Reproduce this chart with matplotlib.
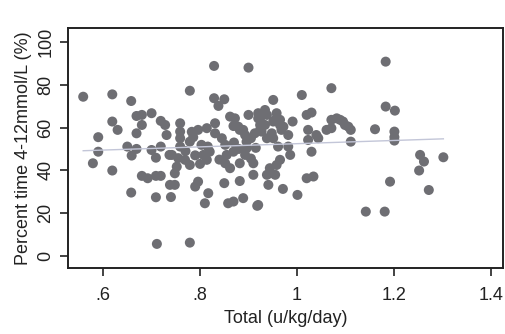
import numpy as np
import matplotlib
matplotlib.use("Agg")
import matplotlib.pyplot as plt

plt.rcParams['font.family'] = ['Liberation Sans', 'DejaVu Sans']

# total insulin dose (u/kg/day)
total = [0.559, 0.619, 0.658, 0.619, 0.630, 0.669, 0.680, 0.700, 0.680, 0.669,
         0.719, 0.731, 0.590, 0.590, 0.579, 0.619, 0.650, 0.659, 0.669, 0.700,
         0.709, 0.719, 0.680, 0.692, 0.709, 0.719, 0.658, 0.709, 0.711, 0.728,
         0.737,
         0.742, 0.755, 0.769, 0.779, 0.752, 0.748, 0.738, 0.748, 0.740, 0.759,
         0.759, 0.759, 0.759, 0.796, 0.814, 0.786, 0.779, 0.831, 0.831, 0.803,
         0.816, 0.852, 0.869, 0.882, 0.893, 0.913, 0.927, 0.896, 0.896, 0.807,
         0.814, 0.820, 0.852, 0.862, 0.855, 0.869, 0.882, 0.893, 0.910, 0.910,
         0.882, 0.850, 0.796, 0.790, 0.817, 0.810, 0.858, 0.869, 0.889, 0.920,
         0.779, 0.829, 0.900, 0.779, 0.829, 0.850, 0.838, 0.862, 0.900, 0.920,
         0.872, 0.879, 0.889, 0.920, 0.924, 0.955, 0.965, 0.968, 0.845, 0.870,
         0.880, 0.840, 0.905, 0.915, 0.905, 0.790, 0.800, 0.770, 0.783,
         0.941, 0.971, 1.001, 0.918,
         1.010, 1.071, 0.951, 0.934, 0.924, 0.938, 0.958, 0.965, 0.951, 0.934,
         0.972, 0.991, 0.924, 0.948, 0.951, 0.982, 0.938, 0.961, 0.982, 0.986,
         0.965, 0.958, 0.944, 0.944, 0.938, 0.955, 1.020, 1.034, 1.030, 1.020,
         1.030, 1.023, 1.023, 1.040, 1.044, 1.061, 1.071, 1.071, 1.082, 1.095,
         1.106, 1.111, 1.111, 1.089, 1.099,
         1.183, 1.183, 1.202, 1.161, 1.201, 1.201, 1.201, 1.254, 1.262, 1.252,
         1.302, 1.192, 1.272, 1.142, 1.181]

# percent time in range 4-12 mmol/L
pct_time = [74.4, 75.5, 72.4, 62.8, 58.9, 65.4, 65.9, 66.7, 61.2, 57.3,
            63.1, 56.5, 55.5, 48.7, 43.3, 39.9, 51.1, 46.9, 50.0, 49.5,
            45.9, 51.1, 37.4, 36.3, 37.4, 37.4, 29.6, 27.4, 5.6, 61.2,
            47.2,
            47.2, 45.7, 44.9, 42.5, 41.7, 38.6, 33.2, 33.2, 27.5, 62.0,
            58.1, 55.0, 51.1, 58.9, 59.7, 55.5, 53.4, 62.0, 57.3, 51.9,
            51.1, 51.9, 60.7, 58.9, 56.5, 57.3, 58.1, 53.4, 50.3, 47.2,
            44.9, 48.7, 43.3, 41.0, 47.2, 48.7, 43.3, 47.2, 43.3, 37.9,
            35.0, 34.0, 34.7, 32.4, 29.3, 24.6, 24.6, 25.4, 27.0, 23.8,
            6.2, 88.8, 88.0, 77.2, 73.7, 73.2, 70.1, 65.1, 65.9, 66.7,
            64.3, 60.4, 58.9, 64.3, 61.2, 63.6, 61.2, 58.9, 55.0, 53.0,
            50.0, 45.0, 55.0, 50.5, 45.5, 47.0, 43.0, 49.0, 58.0,
            33.2, 31.3, 28.5, 23.4,
            75.2, 78.4, 72.9, 68.2, 64.3, 65.9, 66.7, 63.6, 62.8, 61.2,
            60.4, 62.8, 58.9, 57.3, 55.0, 56.5, 55.0, 51.1, 51.1, 47.2,
            44.9, 42.5, 41.0, 38.6, 37.9, 37.9, 36.3, 37.1, 48.7, 65.9,
            67.0, 58.9, 54.2, 56.5, 55.0, 58.9, 59.7, 63.6, 64.3, 62.8,
            60.4, 58.9, 53.4, 63.6, 61.2,
            90.8, 69.8, 67.9, 59.2, 58.1, 55.5, 53.9, 47.2, 44.1, 39.9,
            46.1, 34.7, 30.8, 20.7, 20.7]

x_ticks = [0.6, 0.8, 1.0, 1.2, 1.4]
x_labels = ['.6', '.8', '1', '1.2', '1.4']
y_ticks = [0, 20, 40, 60, 80, 100]

x = np.array(total)
y = np.array(pct_time)

fig = plt.figure(figsize=(5.05, 3.34), dpi=100)
ax = fig.add_axes([0.135, 0.198, 0.861, 0.718])

ax.scatter(x, y, s=52, color='#6e6e73', edgecolors='none', zorder=2)

# linear fit
b, a = np.polyfit(x, y, 1)
xf = np.array([x.min(), x.max()])
ax.plot(xf, a + b * xf, color='#c3c6d8', lw=1.0, zorder=3)

ax.set_xlim(0.528, 1.425)
ax.set_ylim(-5.6, 106.5)
ax.set_xticks(x_ticks)
ax.set_xticklabels(x_labels)
ax.set_yticks(y_ticks)
ax.set_yticklabels([str(t) for t in y_ticks], rotation=90, va='center')
ax.tick_params(labelsize=13, length=6, width=1.2, colors='#222222')
ax.tick_params(axis='x', pad=8)
ax.tick_params(axis='y', pad=4)

for s in ax.spines.values():
    s.set_linewidth(1.4)
    s.set_color('#222222')

ax.set_xlabel('Total (u/kg/day)', fontsize=13, labelpad=4, color='#222222')
ax.set_ylabel('Percent time 4-12mmol/L (%)', fontsize=13, labelpad=4, color='#222222')

fig.savefig('out.png', dpi=100)
